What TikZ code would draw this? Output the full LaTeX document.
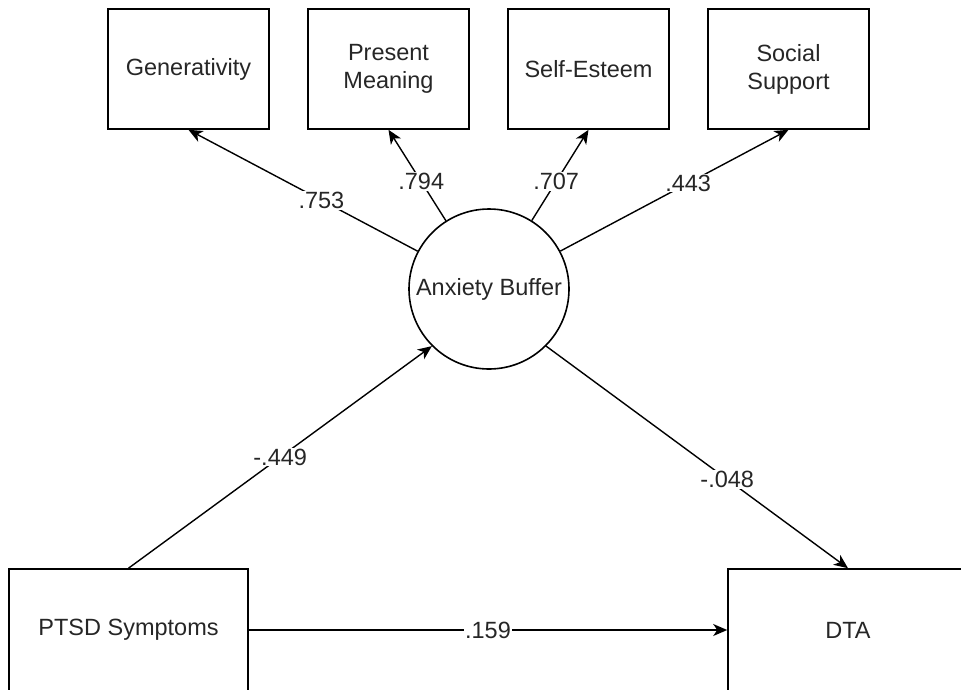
\documentclass[tikz,border=0pt]{standalone}
\usepackage{fontspec}
\setmainfont{Liberation Sans}
\usetikzlibrary{arrows.meta}
\begin{document}
\begin{tikzpicture}[x=1pt,y=-1pt,
  every node/.style={font=\fontsize{23.5}{28}\selectfont, text=black!85},
  boxnode/.style={draw=black, line width=1.6pt, rectangle, align=center, inner sep=0pt},
  smallbox/.style={boxnode, minimum width=161pt, minimum height=120pt},
  bigbox/.style={boxnode, minimum width=240pt, minimum height=122pt},
  latent/.style={draw=black, line width=1.6pt, circle, minimum size=160pt, inner sep=0pt},
  arr/.style={draw=black, line width=1.4pt, -{Stealth[length=14pt,width=12pt,inset=4pt]}},
  lbl/.style={fill=white, inner sep=1pt}
]
\useasboundingbox (0,0) rectangle (961,689);
\node[smallbox] (gen) at (188.5,69) {Generativity};
\node[smallbox] (pm) at (388.5,69) {Present\\Meaning};
\node[smallbox] (se) at (588.5,69) {Self-Esteem};
\node[smallbox] (ss) at (788.5,69) {Social\\Support};
\node[latent] (ab) at (489,289) {Anxiety Buffer};
\node[bigbox, minimum width=239pt] (ptsd) at (128.5,630) {PTSD Symptoms};
\node[bigbox] (dta) at (848,630) {DTA};

\draw[arr] (ab) -- node[lbl,pos=.42]{.753} (gen.south);
\draw[arr] (ab) -- node[lbl,pos=.43]{.794} (pm.south);
\draw[arr] (ab) -- node[lbl,pos=.43]{.707} (se.south);
\draw[arr] (ab) -- node[lbl,pos=.56]{.443} (ss.south);
\draw[arr] (ptsd.north) -- node[lbl,pos=.5]{-.449} (ab.225);
\draw[arr] (ab.315) -- node[lbl,pos=.6]{-.048} (dta.north);
\draw[arr] (ptsd.east) -- node[lbl,pos=.5]{.159} (dta.west);
\end{tikzpicture}
\end{document}
